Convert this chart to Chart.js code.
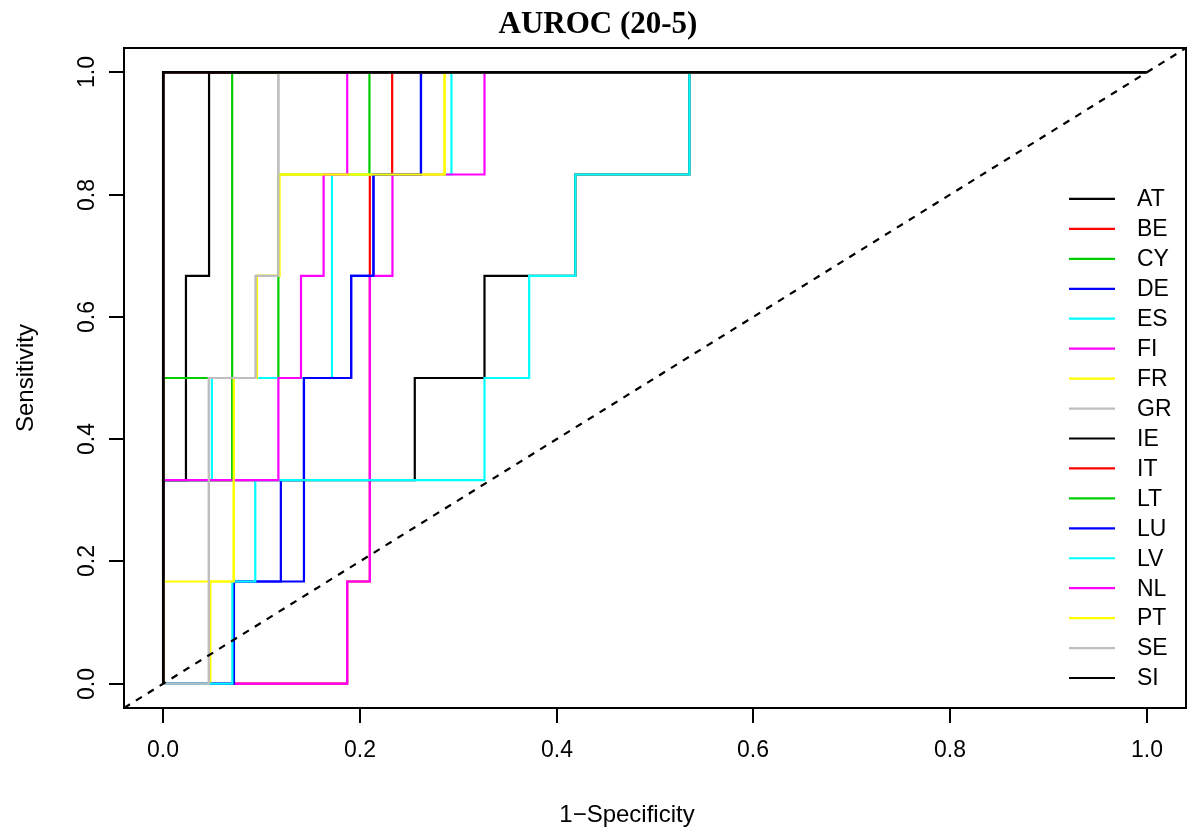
<!DOCTYPE html>
<html>
<head>
<meta charset="utf-8">
<title>AUROC (20-5)</title>
<script src="https://cdn.jsdelivr.net/npm/chart.js@4.4.1/dist/chart.umd.min.js"></script>
<style>
  html, body { margin: 0; padding: 0; background: #ffffff; }
  #wrap { width: 1191px; height: 830px; position: relative; }
</style>
</head>
<body>
<div id="wrap"><canvas id="roc" width="1191" height="830"></canvas></div>
<script>
// ---- ROC step curves: corner points (1-specificity, sensitivity) per country ----
const countries = ['AT','BE','CY','DE','ES','FI','FR','GR','IE','IT','LT','LU','LV','NL','PT','SE','SI'];

const AT_fpr = [0, 0, 0.023, 0.023, 0.0465, 0.0465, 1];
const AT_tpr = [0, 0.333, 0.333, 0.667, 0.667, 1, 1];

const BE_fpr = [0, 0.187, 0.187, 0.21, 0.21, 0.2327, 0.2327, 1];
const BE_tpr = [0, 0, 0.167, 0.167, 0.833, 0.833, 1, 1];

const CY_fpr = [0, 0, 0.117, 0.117, 0.2096, 0.2096, 1];
const CY_tpr = [0, 0.5, 0.5, 0.833, 0.833, 1, 1];

const DE_fpr = [0, 0.0718, 0.0718, 0.143, 0.143, 0.191, 0.191, 0.2137, 0.2137, 0.262, 0.262, 1];
const DE_tpr = [0, 0, 0.167, 0.167, 0.5, 0.5, 0.667, 0.667, 0.833, 0.833, 1, 1];

const ES_fpr = [0, 0, 0.0494, 0.0494, 0.1715, 0.1715, 0.293, 0.293, 1];
const ES_tpr = [0, 0.333, 0.333, 0.5, 0.5, 0.833, 0.833, 1, 1];

const FI_fpr = [0, 0.187, 0.187, 0.21, 0.21, 0.233, 0.233, 0.3266, 0.3266, 1];
const FI_tpr = [0, 0, 0.167, 0.167, 0.667, 0.667, 0.833, 0.833, 1, 1];

const FR_fpr = [0, 0.0478, 0.0478, 0.0716, 0.0716, 0.0952, 0.0952, 0.118, 0.118, 0.286, 0.286, 1];
const FR_tpr = [0, 0, 0.167, 0.167, 0.5, 0.5, 0.667, 0.667, 0.833, 0.833, 1, 1];

const GR_fpr = [0, 0.0463, 0.0463, 0.0939, 0.0939, 0.117, 0.117, 1];
const GR_tpr = [0, 0, 0.5, 0.5, 0.667, 0.667, 1, 1];

const IE_fpr = [0, 0, 0.2557, 0.2557, 0.3266, 0.3266, 0.419, 0.419, 0.535, 0.535, 1];
const IE_tpr = [0, 0.333, 0.333, 0.5, 0.5, 0.667, 0.667, 0.833, 0.833, 1, 1];

const IT_fpr = [0, 0, 1];
const IT_tpr = [0, 1, 1];

const LT_fpr = [0, 0, 0.07, 0.07, 1];
const LT_tpr = [0, 0.333, 0.333, 1, 1];

const LU_fpr = [0, 0.0718, 0.0718, 0.1195, 0.1195, 0.143, 0.143, 0.191, 0.191, 0.2137, 0.2137, 0.262, 0.262, 1];
const LU_tpr = [0, 0, 0.167, 0.167, 0.333, 0.333, 0.5, 0.5, 0.667, 0.667, 0.833, 0.833, 1, 1];

const LV_fpr = [0, 0.0702, 0.0702, 0.0935, 0.0935, 0.3266, 0.3266, 0.372, 0.372, 0.419, 0.419, 0.535, 0.535, 1];
const LV_tpr = [0, 0, 0.167, 0.167, 0.333, 0.333, 0.5, 0.5, 0.667, 0.667, 0.833, 0.833, 1, 1];

const NL_fpr = [0, 0, 0.117, 0.117, 0.14, 0.14, 0.163, 0.163, 0.187, 0.187, 1];
const NL_tpr = [0, 0.333, 0.333, 0.5, 0.5, 0.667, 0.667, 0.833, 0.833, 1, 1];

const PT_fpr = [0, 0, 0.0716, 0.0716, 0.0952, 0.0952, 0.118, 0.118, 0.286, 0.286, 1];
const PT_tpr = [0, 0.167, 0.167, 0.5, 0.5, 0.667, 0.667, 0.833, 0.833, 1, 1];

const SE_fpr = [0, 0.0463, 0.0463, 0.0939, 0.0939, 0.117, 0.117, 1];
const SE_tpr = [0, 0, 0.5, 0.5, 0.667, 0.667, 1, 1];

const SI_fpr = [0, 0, 1];
const SI_tpr = [0, 1, 1];

// classic R base palette, recycled over the countries
const palette = ['#000000', '#FF0000', '#00CD00', '#0000FF', '#00FFFF', '#FF00FF', '#FFFF00', '#BEBEBE'];

// axes
const axisMin = -0.04;
const axisMax = 1.04;
const xTicks = [0, 0.2, 0.4, 0.6, 0.8, 1.0];
const xTickLabels = ['0.0', '0.2', '0.4', '0.6', '0.8', '1.0'];
const yTicks = [0, 0.2, 0.4, 0.6, 0.8, 1.0];
const yTickLabels = ['0.0', '0.2', '0.4', '0.6', '0.8', '1.0'];
const chartTitle = 'AUROC (20-5)';
const xTitle = '1\u2212Specificity';
const yTitle = 'Sensitivity';

// ---- build datasets ----
const curves = {
  AT: [AT_fpr, AT_tpr], BE: [BE_fpr, BE_tpr], CY: [CY_fpr, CY_tpr], DE: [DE_fpr, DE_tpr],
  ES: [ES_fpr, ES_tpr], FI: [FI_fpr, FI_tpr], FR: [FR_fpr, FR_tpr], GR: [GR_fpr, GR_tpr],
  IE: [IE_fpr, IE_tpr], IT: [IT_fpr, IT_tpr], LT: [LT_fpr, LT_tpr], LU: [LU_fpr, LU_tpr],
  LV: [LV_fpr, LV_tpr], NL: [NL_fpr, NL_tpr], PT: [PT_fpr, PT_tpr], SE: [SE_fpr, SE_tpr],
  SI: [SI_fpr, SI_tpr]
};

const lastIndex = countries.length - 1;
const datasets = countries.map((c, i) => {
  const [fx, ty] = curves[c];
  return {
    label: c,
    data: fx.map((v, k) => ({ x: v, y: ty[k] })),
    borderColor: palette[i % palette.length],
    backgroundColor: palette[i % palette.length],
    // the last curve sits on top of everything along the axes
    borderWidth: i === lastIndex ? 2.8 : 2.2,
    pointRadius: 0,
    tension: 0,
    showLine: true,
    fill: false,
    order: countries.length - i   // later countries painted over earlier ones
  };
});

// chance line across the whole plotting region
datasets.push({
  label: '',
  data: [{ x: axisMin, y: axisMin }, { x: axisMax, y: axisMax }],
  borderColor: '#000000',
  borderWidth: 2.2,
  borderDash: [7, 7],
  pointRadius: 0,
  showLine: true,
  fill: false,
  order: -1
});

const SANS = '"Liberation Sans", Arial, Helvetica, sans-serif';
const SERIF = '"Liberation Serif", "Times New Roman", serif';

// frame, axes, titles and legend in base-graphics style
const basePlot = {
  id: 'basePlot',
  afterDraw(chart) {
    const { ctx, chartArea: a, scales } = chart;
    const xs = scales.x, ys = scales.y;
    ctx.save();
    ctx.strokeStyle = '#000';
    ctx.fillStyle = '#000';
    ctx.lineWidth = 2;
    ctx.setLineDash([]);

    // plot box
    ctx.strokeRect(a.left, a.top, a.right - a.left, a.bottom - a.top);

    // x axis ticks + labels
    ctx.font = '23px ' + SANS;
    ctx.textAlign = 'center';
    ctx.textBaseline = 'middle';
    xTicks.forEach((v, i) => {
      const px = Math.round(xs.getPixelForValue(v));
      ctx.beginPath();
      ctx.moveTo(px, a.bottom);
      ctx.lineTo(px, a.bottom + 15);
      ctx.stroke();
      ctx.fillText(xTickLabels[i], px, a.bottom + 43);
    });

    // y axis ticks + rotated labels
    yTicks.forEach((v, i) => {
      const py = Math.round(ys.getPixelForValue(v));
      ctx.beginPath();
      ctx.moveTo(a.left, py);
      ctx.lineTo(a.left - 15, py);
      ctx.stroke();
      ctx.save();
      ctx.translate(a.left - 36, py);
      ctx.rotate(-Math.PI / 2);
      ctx.fillText(yTickLabels[i], 0, 0);
      ctx.restore();
    });

    // axis titles
    ctx.font = '24px ' + SANS;
    ctx.fillText(xTitle, 627, 815);
    ctx.save();
    ctx.translate(26, (a.top + a.bottom) / 2);
    ctx.rotate(-Math.PI / 2);
    ctx.fillText(yTitle, 0, 0);
    ctx.restore();

    // main title
    ctx.font = 'bold 31px ' + SERIF;
    ctx.fillText(chartTitle, 598, 25);

    // legend (bottom right, no box)
    const step = 29.94;
    const rows = countries.length;
    const y0 = a.bottom - 30 - (rows - 1) * step;
    ctx.font = '23px ' + SANS;
    ctx.textAlign = 'left';
    chart.data.datasets.slice(0, rows).forEach((ds, i) => {
      const yy = y0 + i * step;
      ctx.strokeStyle = ds.borderColor;
      ctx.lineWidth = 2.2;
      ctx.beginPath();
      ctx.moveTo(a.right - 117, yy);
      ctx.lineTo(a.right - 71, yy);
      ctx.stroke();
      ctx.fillStyle = '#000';
      ctx.fillText(ds.label, a.right - 49, yy + 1);
    });
    ctx.restore();
  }
};

new Chart(document.getElementById('roc'), {
  type: 'scatter',
  data: { datasets },
  options: {
    responsive: false,
    animation: false,
    devicePixelRatio: 1,
    layout: { padding: { left: 124, top: 48, right: 5, bottom: 122 } },
    plugins: {
      legend: { display: false },
      title: { display: false },
      tooltip: { enabled: false }
    },
    scales: {
      x: { type: 'linear', min: axisMin, max: axisMax, display: false },
      y: { type: 'linear', min: axisMin, max: axisMax, display: false }
    }
  },
  plugins: [basePlot]
});
</script>
</body>
</html>
